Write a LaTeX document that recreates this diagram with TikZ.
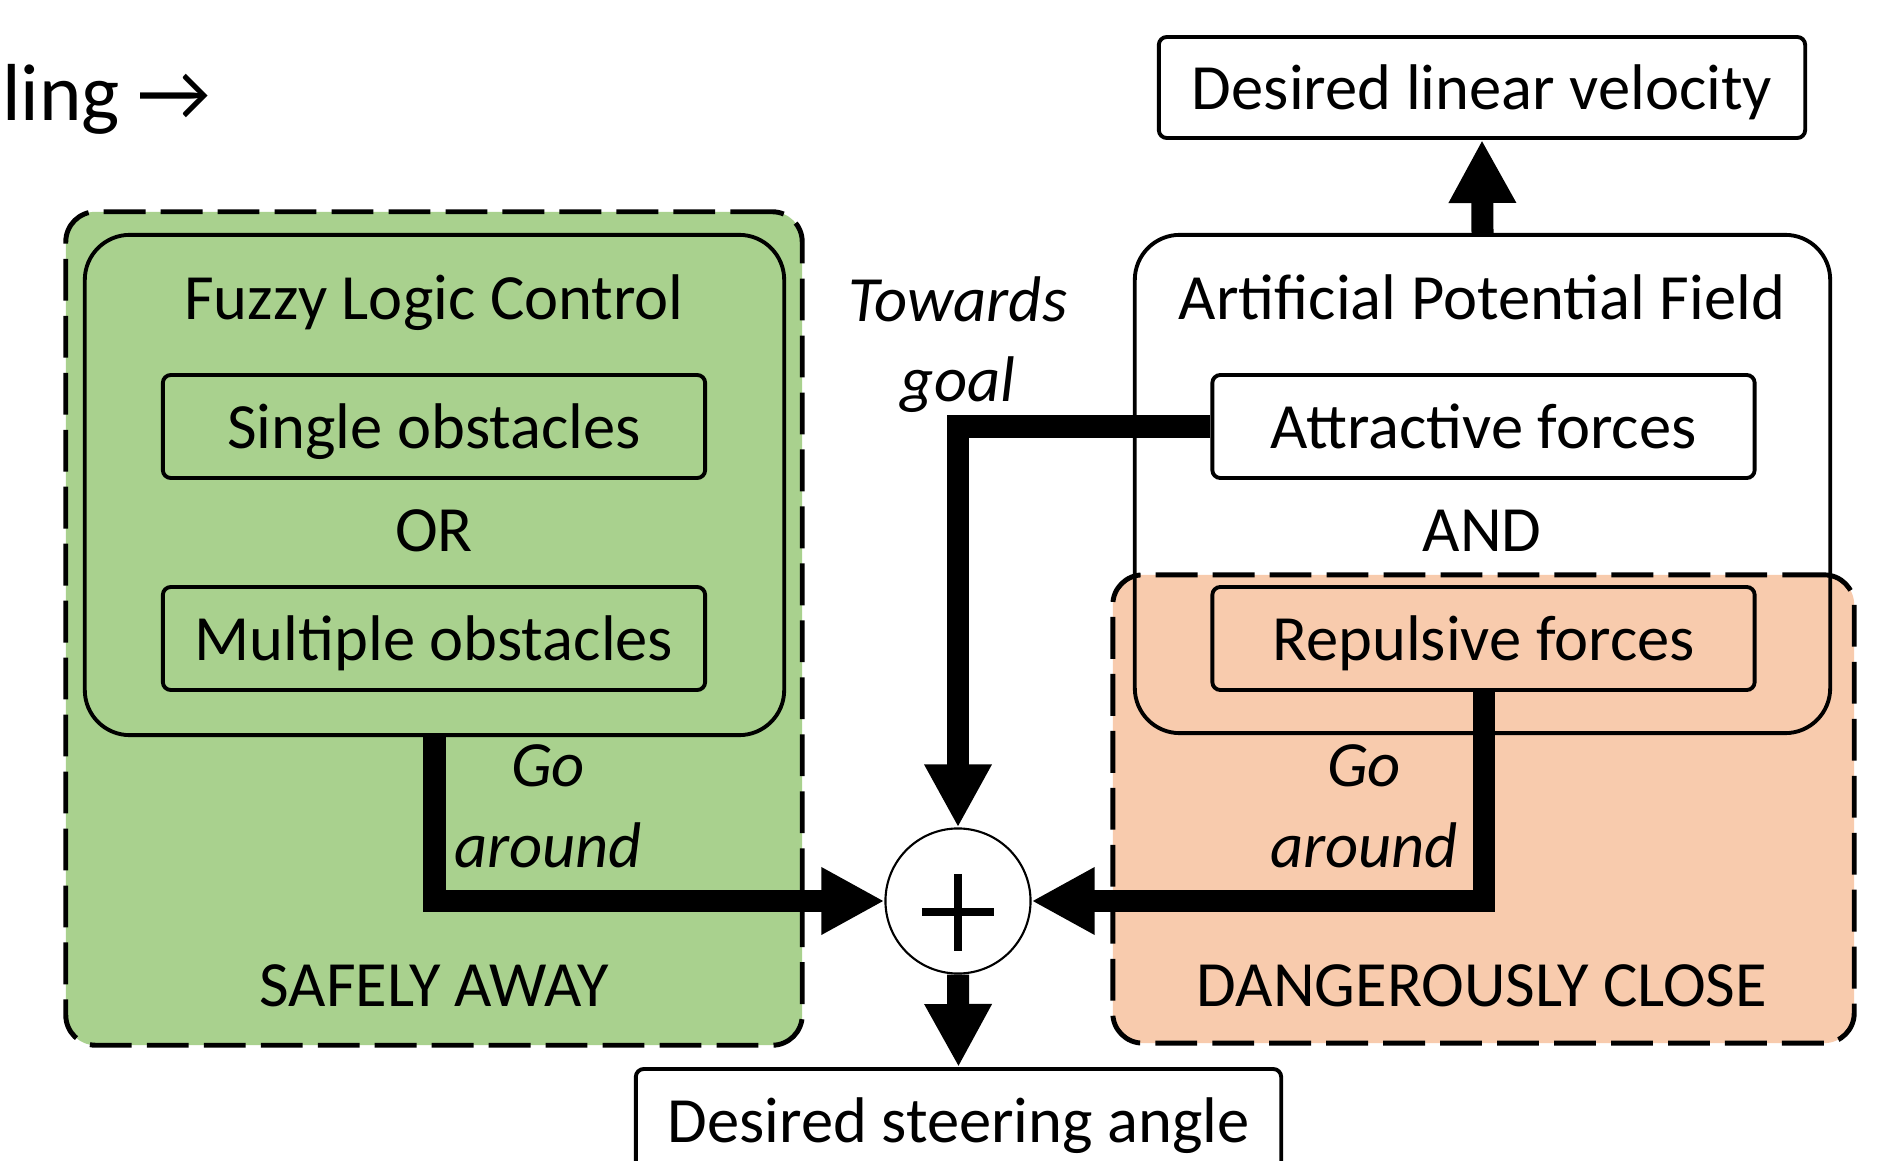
\documentclass[tikz,border=0pt]{standalone}
\usepackage{fontspec}
\setmainfont{Carlito}
\usetikzlibrary{arrows.meta}
\definecolor{safegreen}{RGB}{169,209,142}
\definecolor{closeorange}{RGB}{248,203,173}
\begin{document}
\begin{tikzpicture}[x=0.01cm, y=-0.01cm,
  txt/.style={font=\fontsize{18.35}{22.5}\selectfont, inner sep=0pt},
  itxt/.style={font=\fontsize{18.35}{22.8}\selectfont\itshape, inner sep=0pt, align=center},
  zone/.style={draw, line width=1.4pt, dash pattern=on 11.9pt off 4.3pt, rounded corners=0.3cm, inner sep=0pt},
  group/.style={draw, line width=1.1pt, rounded corners=0.45cm, inner sep=0pt},
  box/.style={draw, line width=1.1pt, rounded corners=0.08cm, inner sep=0pt,
    minimum width=5.42cm, minimum height=1.03cm, text height=0.53cm, text depth=0.1cm,
    font=\fontsize{18.35}{22.5}\selectfont},
  conn/.style={line width=0.22cm, line join=miter, -{Triangle[length=0.63cm,width=0.63cm]}}]

% canvas
\clip (0,0) rectangle (1878,1161);
\fill[white] (0,0) rectangle (1878,1161);

% heading fragment
\node[font=\fontsize{23}{27}\selectfont, anchor=base east, inner sep=0pt] (heading) at (212,121) {ling →};

% operating zones
\node[zone, fill=safegreen, minimum width=7.36cm, minimum height=8.33cm] (safe) at (434,628.5) {};
\node[fill=white, rounded corners=0.45cm, inner sep=0pt, minimum width=6.95cm, minimum height=4.98cm] (apfbg) at (1482.5,484) {};
\node[zone, fill=closeorange, minimum width=7.41cm, minimum height=4.68cm] (close) at (1483.5,809) {};

% controller groups
\node[group, minimum width=6.99cm, minimum height=5cm] (flc) at (434.5,485) {};
\node[group, minimum width=6.95cm, minimum height=4.98cm] (apf) at (1482.5,484) {};

\node[txt, anchor=base] (flctitle) at (434,320) {Fuzzy Logic Control};
\node[txt, anchor=base] (apftitle) at (1482,320) {Artificial Potential Field};
\node[txt, anchor=base] (ortxt) at (434,552) {OR};
\node[txt, anchor=base] (andtxt) at (1482,552) {AND};

\node[box] (single) at (434,426.5) {Single obstacles};
\node[box] (multi) at (434,638.5) {Multiple obstacles};
\node[box] (attr) at (1483.5,426.5) {Attractive forces};
\node[box] (rep) at (1483.5,638.5) {Repulsive forces};

\node[txt, anchor=base] (safetxt) at (434,1006) {SAFELY AWAY};
\node[txt, anchor=base] (closetxt) at (1482,1006) {DANGEROUSLY CLOSE};

% outputs
\node[box, minimum width=6.46cm, minimum height=1.01cm] (vel) at (1482,87.5) {Desired linear velocity};
\node[box, minimum width=6.45cm] (steer) at (958.5,1120.5) {Desired steering angle};

% summing junction
\node[circle, draw, line width=0.6pt, fill=white, minimum size=1.45cm, inner sep=0pt] (sum) at (958,901) {};
\draw[line width=2.4pt]
  ([xshift=-0.36cm,yshift=-0.11cm]sum.center) -- ([xshift=0.36cm,yshift=-0.11cm]sum.center)
  ([yshift=0.27cm]sum.center) -- ([yshift=-0.5cm]sum.center);

% signal paths
\draw[conn] (attr.west) -| (sum.north);
\draw[conn] (flc.south) |- (sum.west);
\draw[conn] (rep.south) |- (sum.east);
\draw[conn] (apf.north) -- (vel.south);
\draw[conn] (sum.south) -- (steer.north);

% path labels (base anchor sits on the last line)
\node[itxt, anchor=base] (towards) at (958,402) {Towards\\goal};
\node[itxt, anchor=base] (goleft) at (548,867) {Go\\around};
\node[itxt, anchor=base] (goright) at (1364,867) {Go\\around};
\end{tikzpicture}
\end{document}
